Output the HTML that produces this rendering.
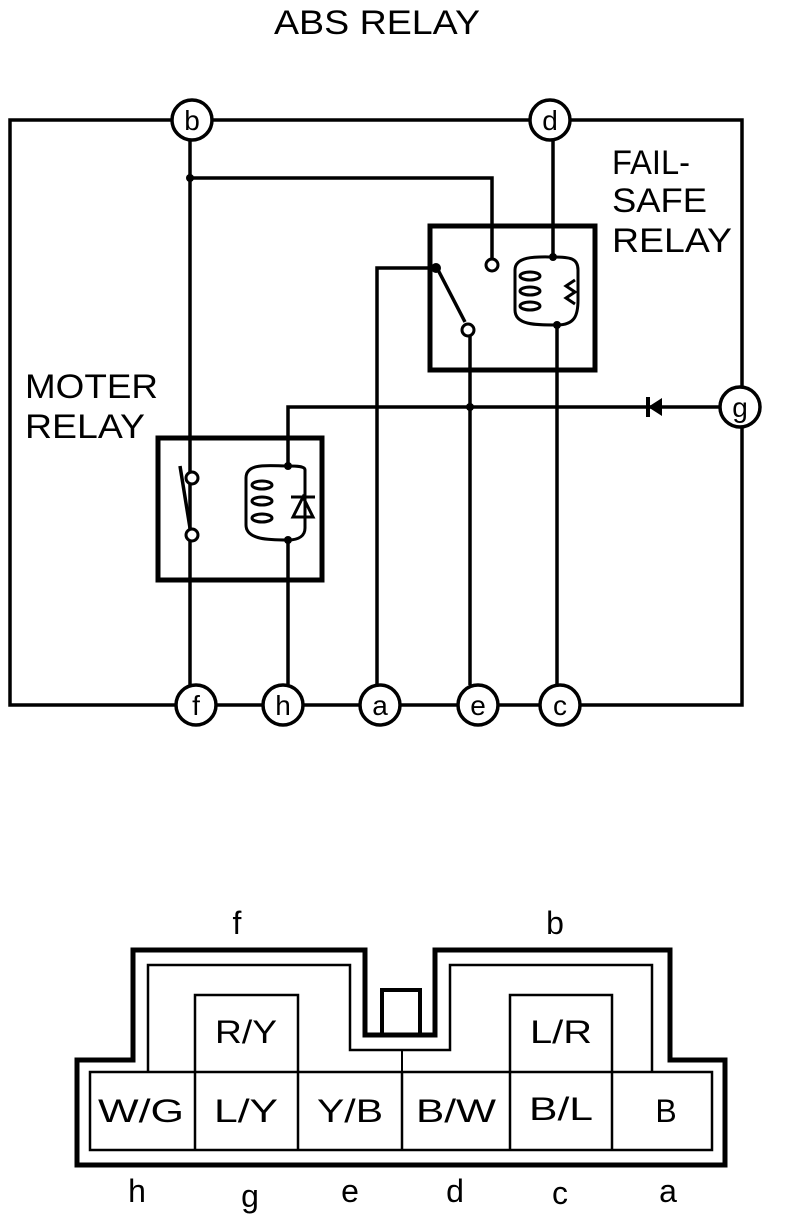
<!DOCTYPE html>
<html><head><style>html,body{margin:0;padding:0;background:#fff}svg{display:block}</style></head>
<body>
<svg width="800" height="1222" viewBox="0 0 800 1222" xmlns="http://www.w3.org/2000/svg" font-family="Liberation Sans, sans-serif">
<rect width="800" height="1222" fill="#fff"/>
<g fill="none" stroke="#000" stroke-width="3.5">
<path d="M172,120 H10 V705 H176 M212,120 H530 M570,120 H742 V387 M742,427 V705 H580"/>
<path d="M216,705 H263 M303,705 H360 M400,705 H458 M498,705 H540"/>
<path d="M190,140 V685"/>
<path d="M190,178 H492 V258"/>
<path d="M553,140 V257"/>
<path d="M557,325 V685"/>
<path d="M377,685 V268 H436"/>
<path d="M436,266 L465,322"/>
<path d="M470,334 V685"/>
<path d="M288,466 V407 H720"/>
<path d="M288,540 V685"/>
<path d="M180,466 L190,528"/>
</g>
<rect x="430" y="226" width="165" height="144" fill="none" stroke="#000" stroke-width="5"/>
<rect x="158" y="438" width="164" height="142" fill="none" stroke="#000" stroke-width="5"/>
<g fill="none" stroke="#000" stroke-width="3">
<path d="M553,257 C540,257 515,255 515,270 V310 C515,325 535,325 557,325 C575,325 578,315 578,300 V270 C578,258 570,257 553,257"/>
<path d="M575,280 L566,286 L575,292 L566,298 L575,304"/>
<ellipse cx="530" cy="276" rx="10" ry="4"/><ellipse cx="530" cy="291" rx="10" ry="4"/><ellipse cx="530" cy="306" rx="10" ry="4"/>
</g>
<g fill="none" stroke="#000" stroke-width="3">
<path d="M288,466 C270,466 246,462 246,478 V525 C246,540 270,540 288,540 C300,540 305,535 305,528 V470 C305,466 296,466 288,466"/>
<ellipse cx="262" cy="485" rx="10" ry="4"/><ellipse cx="262" cy="501" rx="10" ry="4"/><ellipse cx="262" cy="518" rx="10" ry="4"/>
<path d="M291,497 H315 M303,497 L293,517 H313 Z"/>
</g>
<path d="M648,407 L662,398 V416 Z" fill="#000"/>
<path d="M648,397 V417" stroke="#000" stroke-width="4"/>
<g fill="#000">
<circle cx="190" cy="178" r="4"/><circle cx="436" cy="268" r="5"/><circle cx="553" cy="257" r="4"/><circle cx="557" cy="325" r="4"/>
<circle cx="470" cy="407" r="4"/><circle cx="288" cy="466" r="4"/><circle cx="288" cy="540" r="4"/>
</g>
<g fill="#fff" stroke="#000" stroke-width="3">
<circle cx="492" cy="265" r="6"/><circle cx="468" cy="330" r="6"/><circle cx="192" cy="478" r="6"/><circle cx="192" cy="535" r="6"/>
</g>
<g fill="#fff" stroke="#000" stroke-width="3.5">
<circle cx="192" cy="120" r="20"/><circle cx="550" cy="120" r="20"/><circle cx="740" cy="407" r="20"/>
<circle cx="196" cy="705" r="20"/><circle cx="283" cy="705" r="20"/><circle cx="380" cy="705" r="20"/><circle cx="478" cy="705" r="20"/><circle cx="560" cy="705" r="20"/>
</g>
<g font-size="28" text-anchor="middle">
<text x="192" y="130">b</text><text x="550" y="130">d</text><text x="740" y="417">g</text>
<text x="196" y="715">f</text><text x="283" y="715">h</text><text x="380" y="715">a</text><text x="478" y="715">e</text><text x="560" y="715">c</text>
</g>
<g font-size="34">
<text x="377" y="34" text-anchor="middle" textLength="206" lengthAdjust="spacingAndGlyphs">ABS RELAY</text>
<text x="612" y="174" textLength="78" lengthAdjust="spacingAndGlyphs">FAIL-</text>
<text x="612" y="212" textLength="95" lengthAdjust="spacingAndGlyphs">SAFE</text>
<text x="612" y="252" textLength="120" lengthAdjust="spacingAndGlyphs">RELAY</text>
<text x="25" y="398" textLength="133" lengthAdjust="spacingAndGlyphs">MOTER</text>
<text x="25" y="438" textLength="120" lengthAdjust="spacingAndGlyphs">RELAY</text>
</g>
<path d="M77,1060 H133 V950 H365 V1035 H435 V950 H670 V1060 H725 V1165 H77 Z" fill="none" stroke="#000" stroke-width="5"/>
<path d="M148,1072 V965 H350 V1050 H450 V965 H652 V1072" fill="none" stroke="#000" stroke-width="2.5"/>
<rect x="382" y="990" width="38" height="45" fill="none" stroke="#000" stroke-width="4"/>
<path d="M402,1050 V1072" stroke="#000" stroke-width="2"/>
<rect x="90" y="1072" width="622" height="78" fill="none" stroke="#000" stroke-width="2.5"/>
<g stroke="#000" stroke-width="2.5" fill="none">
<path d="M195,1072 V1150 M298,1072 V1150 M402,1072 V1150 M510,1072 V1150 M612,1072 V1150"/>
<path d="M195,1072 V995 H298 V1072 M510,1072 V995 H612 V1072"/>
</g>
<g font-size="32" text-anchor="middle" lengthAdjust="spacingAndGlyphs">
<text x="246" y="1043" textLength="62" lengthAdjust="spacingAndGlyphs">R/Y</text><text x="561" y="1043" textLength="62" lengthAdjust="spacingAndGlyphs">L/R</text>
<text x="141" y="1122" textLength="86" lengthAdjust="spacingAndGlyphs">W/G</text><text x="246" y="1122" textLength="64" lengthAdjust="spacingAndGlyphs">L/Y</text><text x="350" y="1122" textLength="66" lengthAdjust="spacingAndGlyphs">Y/B</text>
<text x="456" y="1122" textLength="80" lengthAdjust="spacingAndGlyphs">B/W</text><text x="561" y="1120" textLength="64" lengthAdjust="spacingAndGlyphs">B/L</text><text x="666" y="1122">B</text>
<text x="237" y="934">f</text><text x="555" y="934">b</text>
<text x="137" y="1202">h</text><text x="250" y="1207">g</text><text x="350" y="1202">e</text>
<text x="455" y="1202">d</text><text x="560" y="1204">c</text><text x="668" y="1202">a</text>
</g>
</svg>
</body></html>
